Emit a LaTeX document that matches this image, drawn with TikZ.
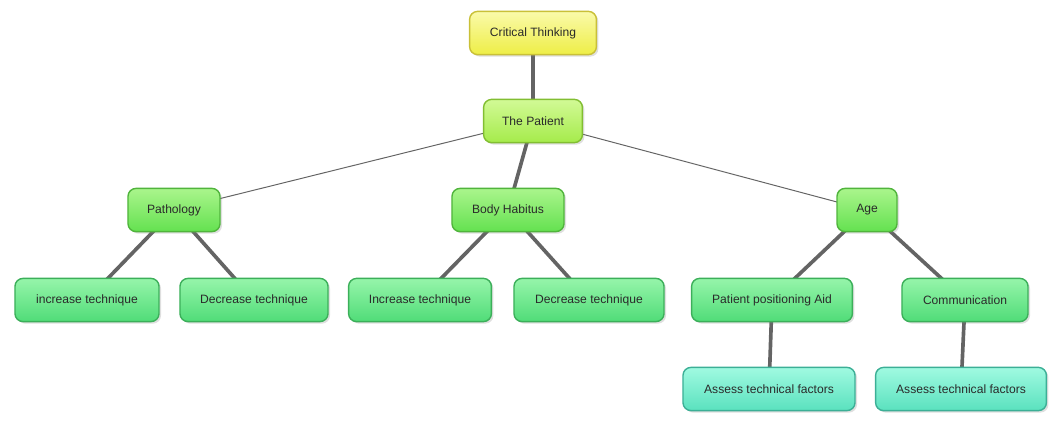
\documentclass[tikz,border=0pt]{standalone}
\usepackage{fontspec}
\setmainfont{Liberation Sans}
\usetikzlibrary{shadows}
\definecolor{txt}{HTML}{2A2A2A}
\definecolor{ybord}{HTML}{C9C038}
\tikzset{
 bx/.style={draw, line width=1pt, rounded corners=0.2cm, minimum height=1.08cm, inner sep=0pt, font=\fontsize{8.6pt}{10pt}\selectfont, text=txt, drop shadow={shadow xshift=0.05cm, shadow yshift=-0.05cm, opacity=0.25}},
 yel/.style={bx, draw=ybord, top color={rgb,255:red,250;green,250;blue,170}, bottom color={rgb,255:red,238;green,238;blue,70}},
 lime/.style={bx, draw={rgb,255:red,130;green,190;blue,50}, top color={rgb,255:red,210;green,250;blue,150}, bottom color={rgb,255:red,165;green,235;blue,75}},
 grn/.style={bx, draw={rgb,255:red,80;green,180;blue,60}, top color={rgb,255:red,170;green,245;blue,140}, bottom color={rgb,255:red,100;green,225;blue,80}},
 leaf/.style={bx, draw={rgb,255:red,60;green,175;blue,90}, top color={rgb,255:red,150;green,245;blue,170}, bottom color={rgb,255:red,80;green,220;blue,120}},
 teal/.style={bx, draw={rgb,255:red,60;green,175;blue,150}, top color={rgb,255:red,160;green,250;blue,225}, bottom color={rgb,255:red,90;green,225;blue,190}},
 ln/.style={draw={rgb,255:red,100;green,100;blue,100}, line width=2.6pt},
 thin/.style={draw={rgb,255:red,100;green,100;blue,100}, line width=0.7pt}
}
\begin{document}
\begin{tikzpicture}[x=0.025cm,y=-0.025cm]
\useasboundingbox (0,0) rectangle (1059,421);
\path (533,33) coordinate (c1) (533,121) coordinate (c2) (174,210) coordinate (c3) (508,210) coordinate (c4) (867,210) coordinate (c5)
 (87,300) coordinate (c6) (254,300) coordinate (c7) (420,300) coordinate (c8) (589,300) coordinate (c9) (772,300) coordinate (c10) (965,300) coordinate (c11) (769,389) coordinate (c12) (961,389) coordinate (c13);
\draw[ln] (c1) -- (c2);
\draw[thin] (c3) -- (c2);
\draw[ln] (c2) -- (c4);
\draw[thin] (c2) -- (c5);
\draw[ln] (c3) -- (c6); \draw[ln] (c3) -- (c7);
\draw[ln] (c4) -- (c8); \draw[ln] (c4) -- (c9);
\draw[ln] (c5) -- (c10); \draw[ln] (c5) -- (c11);
\draw[ln] (c10) -- (c12); \draw[ln] (c11) -- (c13);
\node[yel, minimum width=3.17cm] (n1) at (c1) {Critical Thinking};
\node[lime, minimum width=2.47cm] (n2) at (c2) {The Patient};
\node[grn, minimum width=2.3cm] (n3) at (c3) {Pathology};
\node[grn, minimum width=2.8cm] (n4) at (c4) {Body Habitus};
\node[grn, minimum width=1.5cm] (n5) at (c5) {Age};
\node[leaf, minimum width=3.6cm] (n6) at (c6) {increase technique};
\node[leaf, minimum width=3.7cm] (n7) at (c7) {Decrease technique};
\node[leaf, minimum width=3.57cm] (n8) at (c8) {Increase technique};
\node[leaf, minimum width=3.75cm] (n9) at (c9) {Decrease technique};
\node[leaf, minimum width=4.02cm] (n10) at (c10) {Patient positioning Aid};
\node[leaf, minimum width=3.15cm] (n11) at (c11) {Communication};
\node[teal, minimum width=4.3cm] (n12) at (c12) {Assess technical factors};
\node[teal, minimum width=4.27cm] (n13) at (c13) {Assess technical factors};
\end{tikzpicture}
\end{document}
